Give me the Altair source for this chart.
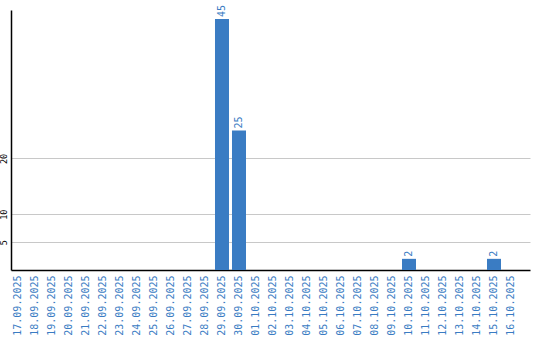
import altair as alt
import pandas as pd

dates = ["17.09.2025", "18.09.2025", "19.09.2025", "20.09.2025", "21.09.2025",
         "22.09.2025", "23.09.2025", "24.09.2025", "25.09.2025", "26.09.2025",
         "27.09.2025", "28.09.2025", "29.09.2025", "30.09.2025", "01.10.2025",
         "02.10.2025", "03.10.2025", "04.10.2025", "05.10.2025", "06.10.2025",
         "07.10.2025", "08.10.2025", "09.10.2025", "10.10.2025", "11.10.2025",
         "12.10.2025", "13.10.2025", "14.10.2025", "15.10.2025", "16.10.2025"]
values = [0, 0, 0, 0, 0, 0, 0, 0, 0, 0, 0, 0, 45, 25, 0,
          0, 0, 0, 0, 0, 0, 0, 0, 2, 0, 0, 0, 0, 2, 0]
y_ticks = [5, 10, 20]

df = pd.DataFrame({"date": dates, "value": values})
df["label"] = [str(v) if v > 0 else "" for v in values]

blue = "#3a7cc3"

x = alt.X("date:N", sort=dates, title=None,
          scale=alt.Scale(paddingInner=0.176, paddingOuter=0.353, align=0),
          axis=alt.Axis(labelAngle=-90, labelColor=blue, labelFont="DejaVu Sans Mono",
                        labelFontSize=10, ticks=False, domain=True, domainColor="#000000",
                        labelPadding=5, grid=False, labelAlign="right", labelBaseline="middle"))
y = alt.Y("value:Q", title=None,
          scale=alt.Scale(domain=[0, 46.6], nice=False),
          axis=alt.Axis(values=y_ticks, labelAngle=-90, labelFont="DejaVu Sans Mono",
                        labelFontSize=8.5, labelColor="#000000", ticks=False, domainColor="#000000",
                        gridColor="#c8c8c8", labelPadding=3, labelAlign="center",
                        labelBaseline="bottom"))

bars = alt.Chart(df).mark_bar(color=blue).encode(x=x, y=y)
texts = alt.Chart(df).mark_text(angle=270, align="left", baseline="middle", dx=2,
                                color=blue, font="DejaVu Sans Mono", fontSize=10).encode(
    x=alt.X("date:N", sort=dates), y="value:Q", text="label:N")

chart = alt.layer(bars, texts).properties(
    width=519, height=260,
    autosize=alt.AutoSizeParams(type="none"),
    padding={"left": 11, "top": 10, "right": 10, "bottom": 70},
).configure_view(stroke=None).configure_axis(domainWidth=1.5)

chart.save("out.html", embed_options={"renderer": "svg", "actions": False})
